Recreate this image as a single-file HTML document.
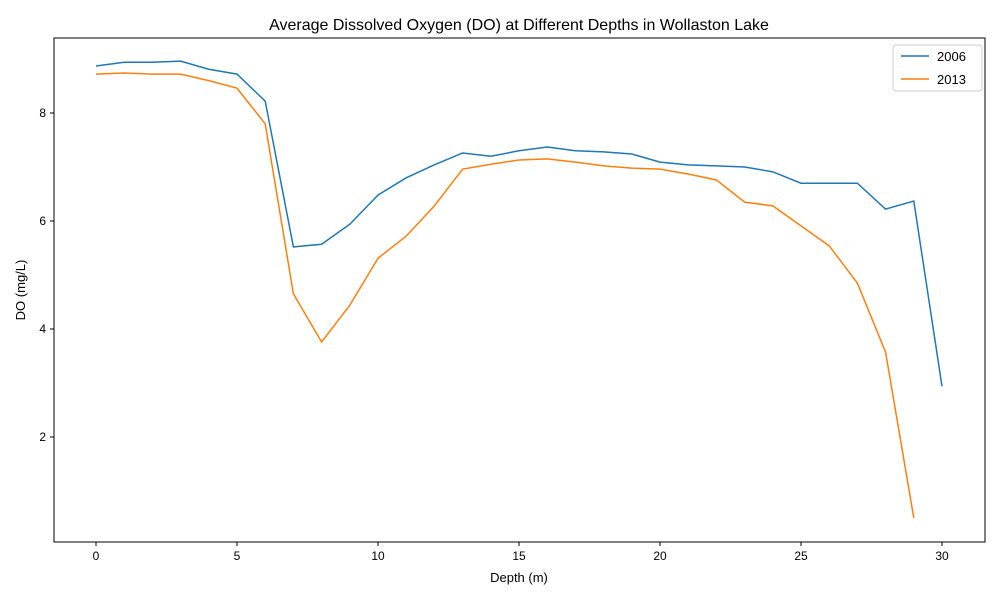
<!DOCTYPE html>
<html><head><meta charset="utf-8"><style>
body{margin:0;background:#fff;font-family:"Liberation Sans","DejaVu Sans",sans-serif;}
</style></head><body>
<svg id="chart" width="1000" height="600" xmlns="http://www.w3.org/2000/svg" font-family="Liberation Sans, DejaVu Sans, sans-serif">
<text x="519" y="30" font-size="16" text-anchor="middle">Average Dissolved Oxygen (DO) at Different Depths in Wollaston Lake</text>
<g id="axes"></g>
<g id="series"></g>
<rect x="54" y="38" width="931" height="504" fill="none" stroke="#000" stroke-width="1"/>
<text x="519" y="582" font-size="13" text-anchor="middle">Depth (m)</text>
<text x="0" y="0" font-size="13" text-anchor="middle" transform="translate(25,290) rotate(-90)">DO (mg/L)</text>
<g>
<rect x="893" y="45" width="89" height="46" rx="3" fill="#fff" stroke="#ccc"/>
<line x1="901" y1="56" x2="929" y2="56" stroke="#1f77b4" stroke-width="1.5"/>
<text x="937" y="61" font-size="13">2006</text>
<line x1="901" y1="79" x2="929" y2="79" stroke="#ff7f0e" stroke-width="1.5"/>
<text x="937" y="84" font-size="13">2013</text>
</g>
</svg>
<script>
const depths=[0,1,2,3,4,5,6,7,8,9,10,11,12,13,14,15,16,17,18,19,20,21,22,23,24,25,26,27,28,29,30];
const do2006=[8.87,8.94,8.94,8.96,8.81,8.72,8.22,5.52,5.57,5.94,6.48,6.80,7.04,7.26,7.20,7.30,7.37,7.30,7.28,7.24,7.09,7.04,7.02,7.00,6.91,6.70,6.70,6.70,6.22,6.37,2.94];
const do2013=[8.72,8.74,8.72,8.72,8.60,8.46,7.80,4.65,3.76,4.44,5.31,5.72,6.28,6.96,7.05,7.13,7.15,7.09,7.02,6.98,6.96,6.87,6.76,6.35,6.28,5.91,5.54,4.85,3.57,0.50];
const xTicks=[0,5,10,15,20,25,30];
const yTicks=[2,4,6,8];
const NS="http://www.w3.org/2000/svg";
const xs=v=>96+v*(942-96)/30;
const ys=v=>113+(8-v)*54;
const axes=document.getElementById('axes');
const ser=document.getElementById('series');
function mk(tag,attrs,parent){const e=document.createElementNS(NS,tag);for(const k in attrs)e.setAttribute(k,attrs[k]);parent.appendChild(e);return e;}
xTicks.forEach(t=>{
  const l=mk('line',{x1:xs(t),x2:xs(t),y1:542,y2:546,stroke:'#000'},axes);
  
  
  const tx=mk('text',{x:xs(t),y:560,'font-size':12,'text-anchor':'middle'},axes);
  tx.textContent=t;
  
  
});
yTicks.forEach(t=>{
  const l=mk('line',{x1:50,x2:54,y1:ys(t),y2:ys(t),stroke:'#000'},axes);
  
  
  const tx=mk('text',{x:46,y:ys(t)+4,'font-size':12,'text-anchor':'end'},axes);
  tx.textContent=t;
  
  
});
function line(vals,color,name){
  const pts=vals.map((v,i)=>xs(depths[i])+','+ys(v)).join(' ');
  const p=mk('polyline',{points:pts,fill:'none',stroke:color,'stroke-width':1.5},ser);
  
  
}
line(do2006,'#1f77b4','line-2006');
line(do2013,'#ff7f0e','line-2013');
</script>
</body></html>
